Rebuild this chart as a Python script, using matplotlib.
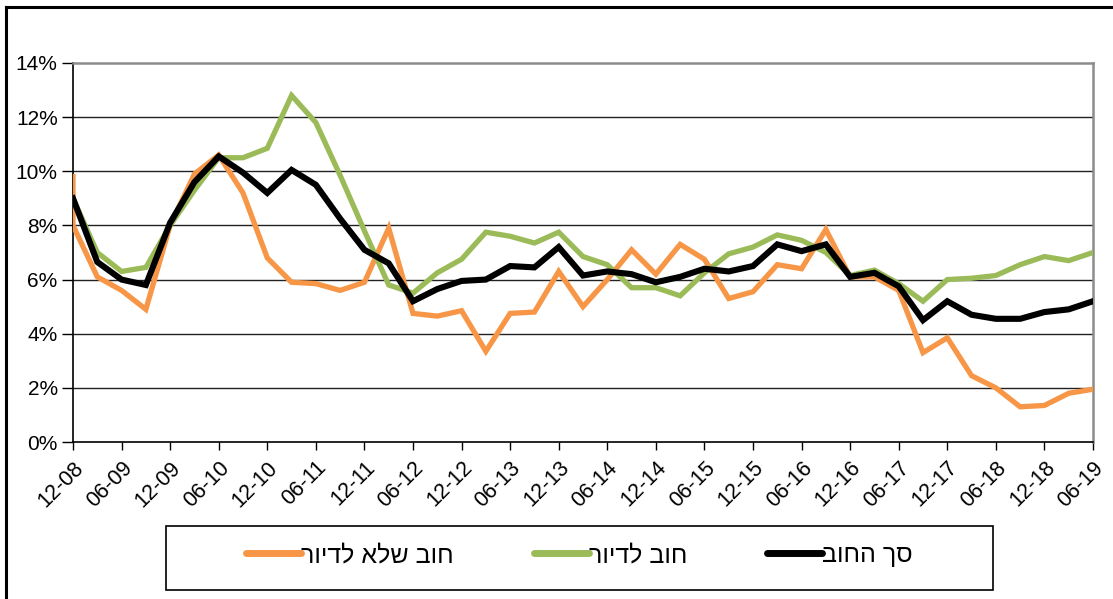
import numpy as np
import matplotlib
matplotlib.use("Agg")
import matplotlib.pyplot as plt
from matplotlib.lines import Line2D
from matplotlib.patches import Rectangle

plt.rcParams['font.family'] = ['Liberation Sans', 'DejaVu Sans']

# quarterly labels, 12-08 .. 06-19 (ticks every second quarter)
tick_labels = ['12-08', '06-09', '12-09', '06-10', '12-10', '06-11', '12-11', '06-12',
               '12-12', '06-13', '12-13', '06-14', '12-14', '06-15', '12-15', '06-16',
               '12-16', '06-17', '12-17', '06-18', '12-18', '06-19']

# series, % per quarter
non_housing = [8.0, 6.1, 5.6, 4.9, 8.0, 9.9, 10.6, 9.2, 6.8, 5.9, 5.85, 5.6, 5.9, 7.9,
               4.75, 4.65, 4.85, 3.35, 4.75, 4.8, 6.3, 5.0, 6.0, 7.1, 6.2, 7.3, 6.75,
               5.3, 5.55, 6.55, 6.4, 7.85, 6.1, 6.1, 5.6, 3.3, 3.85, 2.45, 2.0, 1.3,
               1.35, 1.8, 1.95]
non_housing_open = 9.8  # first print of the series at 12-08
housing = [9.0, 7.0, 6.3, 6.45, 8.0, 9.3, 10.5, 10.5, 10.85, 12.8, 11.8, 9.85, 7.8, 5.8,
           5.5, 6.25, 6.75, 7.75, 7.6, 7.35, 7.75, 6.85, 6.55, 5.7, 5.7, 5.4, 6.25,
           6.95, 7.2, 7.65, 7.45, 7.0, 6.15, 6.35, 5.85, 5.2, 6.0, 6.05, 6.15, 6.55,
           6.85, 6.7, 7.0]
total = [9.0, 6.65, 6.0, 5.8, 8.1, 9.6, 10.55, 9.95, 9.2, 10.05, 9.5, 8.25, 7.1, 6.6,
         5.2, 5.65, 5.95, 6.0, 6.5, 6.45, 7.2, 6.15, 6.3, 6.2, 5.9, 6.1, 6.4, 6.3,
         6.5, 7.3, 7.05, 7.3, 6.1, 6.25, 5.75, 4.5, 5.2, 4.7, 4.55, 4.55, 4.8, 4.9, 5.2]

names = ['חוב שלא לדיור', 'חוב לדיור', 'סך החוב']

def rtl(s):
    return s[::-1]

q = np.arange(len(total))

fig = plt.figure(figsize=(11.13, 5.99), dpi=100)
ax = fig.add_axes([73/1113, 1-442/599, (1093-73)/1113, (442-63)/599])

l1, = ax.plot(np.r_[0, q], np.r_[non_housing_open, non_housing], color='#F79646', lw=3.8,
              solid_joinstyle='miter', zorder=3)
l2, = ax.plot(q, housing, color='#9BBB59', lw=3.8, solid_joinstyle='miter', zorder=4)
l3, = ax.plot(q, total, color='black', lw=4.4, solid_joinstyle='miter', zorder=5)

ax.set_xlim(0, 42)
ax.set_ylim(0, 14)
ax.set_yticks(np.arange(0, 15, 2))
ax.set_yticklabels([f'{v}%' for v in range(0, 15, 2)], fontsize=15)
ax.set_xticks(np.arange(0, 43, 2))
ax.set_xticklabels(tick_labels, rotation=45, ha='right', rotation_mode='anchor', fontsize=15.5)
ax.tick_params(axis='both', direction='out', length=8, width=1, color='black', pad=3)
ax.tick_params(axis='x', length=6, pad=5)

for v in range(2, 14, 2):
    ax.axhline(v, color='#222222', lw=1.0, zorder=1)
ax.spines['left'].set_color('black')
ax.spines['bottom'].set_color('black')
for s in ['top', 'right']:
    ax.spines[s].set_color('#8c8c8c')
    ax.spines[s].set_linewidth(1.8)
for s in ['left', 'bottom']:
    ax.spines[s].set_linewidth(1.2)

# legend box
fig.add_artist(Rectangle((166/1113, 1-590/599), (993-166)/1113, 64/599,
                         transform=fig.transFigure, fill=False, edgecolor='black', lw=1.2))
leg = fig.legend([l1, l2, l3], [rtl(n) for n in names], loc='center',
                 bbox_to_anchor=((166+993)/2/1113, 1-555/599), ncol=3, frameon=False,
                 fontsize=18, handlelength=2.2, handletextpad=0.0, columnspacing=3.2)
for h in leg.legend_handles:
    h.set_linewidth(5)
    h.set_solid_capstyle('round')

# outer frame lines
fig.add_artist(Line2D([6/1113, 6/1113], [0, 1-7/599], transform=fig.transFigure,
                      color='black', lw=2.2))
fig.add_artist(Line2D([6/1113, 1], [1-7/599, 1-7/599], transform=fig.transFigure,
                      color='black', lw=2.2))

fig.savefig('out.png', dpi=100)
